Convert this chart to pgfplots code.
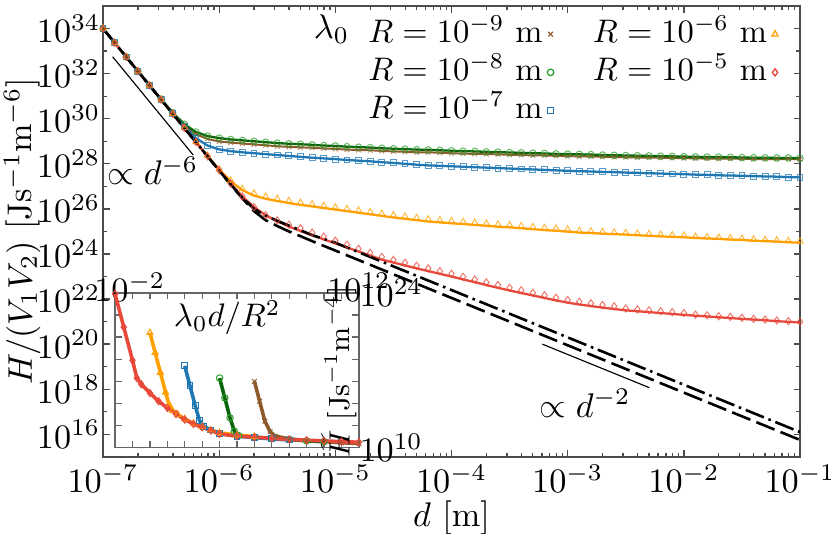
\RequirePackage{fix-cm}
\documentclass[border=0pt]{standalone}
\usepackage{pgfplots}
\pgfplotsset{compat=1.18}
\usepackage{pgfplotstable}
\usepackage{amsmath}

\definecolor{cbrown}{HTML}{8C5A2B}
\definecolor{cbrownm}{HTML}{A0643C}
\definecolor{cgreen}{HTML}{0A640A}
\definecolor{cgreenm}{HTML}{2CA02C}
\definecolor{cblue}{HTML}{1F77B4}
\definecolor{corange}{HTML}{FFA000}
\definecolor{cred}{HTML}{E8483A}

% main curves, log10 values: lx = log10(d), columns = log10(H/(V1V2))
\pgfplotstableread{
lx br gr bl or orm rd rdm
-7.0 34.00 34.00 34.00 34.00 34.00 34.00 34.00
-6.9 33.37 33.37 33.37 33.37 33.37 33.37 33.37
-6.8 32.74 32.74 32.74 32.74 32.74 32.74 32.74
-6.7 32.11 32.11 32.11 32.11 32.11 32.11 32.11
-6.6 31.48 31.48 31.48 31.48 31.48 31.48 31.48
-6.5 30.86 30.87 30.85 30.85 30.85 30.85 30.85
-6.4 30.26 30.27 30.24 30.22 30.22 30.22 30.22
-6.3 29.72 29.76 29.65 29.59 29.59 29.59 29.59
-6.2 29.31 29.41 29.14 28.97 28.97 28.96 28.96
-6.1 29.10 29.23 28.81 28.35 28.35 28.33 28.33
-6.0 28.99 29.14 28.64 27.75 27.75 27.72 27.72
-5.9 28.94 29.08 28.56 27.23 27.26 27.12 27.12
-5.8 28.90 29.04 28.51 26.83 26.89 26.55 26.55
-5.7 28.86 29.00 28.47 26.59 26.69 26.08 26.08
-5.6 28.82 28.96 28.43 26.45 26.55 25.72 25.72
-5.5 28.78 28.92 28.39 26.35 26.45 25.45 25.49
-5.4 28.75 28.89 28.35 26.26 26.36 25.22 25.30
-5.3 28.73 28.87 28.31 26.18 26.28 25.02 25.14
-5.2 28.71 28.84 28.27 26.11 26.21 24.83 24.95
-5.1 28.68 28.81 28.24 26.04 26.14 24.65 24.77
-5.0 28.66 28.79 28.21 25.97 26.07 24.47 24.59
-4.9 28.63 28.76 28.17 25.90 26.00 24.29 24.41
-4.8 28.61 28.74 28.14 25.83 25.93 24.11 24.23
-4.7 28.60 28.72 28.11 25.76 25.86 23.93 24.05
-4.6 28.57 28.69 28.07 25.69 25.79 23.75 23.87
-4.5 28.55 28.67 28.04 25.62 25.72 23.62 23.74
-4.4 28.53 28.65 28.00 25.56 25.66 23.49 23.61
-4.3 28.51 28.63 27.96 25.50 25.60 23.36 23.48
-4.2 28.51 28.62 27.93 25.44 25.54 23.24 23.36
-4.1 28.49 28.60 27.91 25.40 25.50 23.12 23.24
-4.0 28.47 28.58 27.89 25.36 25.46 23.00 23.12
-3.9 28.45 28.56 27.87 25.33 25.43 22.87 22.99
-3.8 28.44 28.55 27.85 25.29 25.39 22.75 22.87
-3.7 28.43 28.53 27.83 25.25 25.35 22.62 22.74
-3.6 28.42 28.52 27.81 25.21 25.31 22.50 22.62
-3.5 28.40 28.50 27.79 25.18 25.28 22.38 22.50
-3.4 28.39 28.49 27.77 25.14 25.24 22.27 22.39
-3.3 28.37 28.47 27.75 25.10 25.20 22.16 22.28
-3.2 28.37 28.46 27.73 25.06 25.16 22.05 22.17
-3.1 28.35 28.44 27.71 25.03 25.13 21.94 22.06
-3.0 28.34 28.43 27.69 24.99 25.09 21.84 21.96
-2.9 28.33 28.42 27.67 24.95 25.03 21.76 21.88
-2.8 28.32 28.41 27.66 24.93 25.01 21.69 21.81
-2.7 28.31 28.39 27.64 24.90 24.98 21.62 21.74
-2.6 28.30 28.38 27.63 24.88 24.96 21.56 21.68
-2.5 28.29 28.37 27.61 24.86 24.94 21.50 21.58
-2.4 28.28 28.36 27.60 24.83 24.91 21.46 21.54
-2.3 28.27 28.35 27.58 24.81 24.89 21.42 21.50
-2.2 28.27 28.34 27.57 24.78 24.86 21.38 21.46
-2.1 28.26 28.33 27.55 24.76 24.84 21.34 21.42
-2.0 28.25 28.32 27.54 24.74 24.82 21.30 21.38
-1.9 28.24 28.31 27.52 24.71 24.77 21.26 21.31
-1.8 28.23 28.30 27.51 24.69 24.75 21.23 21.28
-1.7 28.23 28.30 27.49 24.67 24.73 21.19 21.24
-1.6 28.23 28.29 27.48 24.64 24.70 21.16 21.21
-1.5 28.22 28.28 27.47 24.62 24.68 21.12 21.17
-1.4 28.21 28.27 27.45 24.59 24.65 21.09 21.12
-1.3 28.21 28.27 27.44 24.57 24.63 21.06 21.09
-1.2 28.21 28.26 27.43 24.55 24.61 21.02 21.05
-1.1 28.21 28.26 27.41 24.52 24.58 20.99 21.02
-1.0 28.20 28.25 27.40 24.50 24.56 20.96 20.99
}\maindata

% black limit curves
\pgfplotstableread{
lx ly
-7.0 34.00
-6.5 30.85
-6.0 27.70
-5.9 27.07
-5.8 26.46
-5.7 25.90
-5.6 25.50
-5.5 25.24
-5.4 25.00
-5.3 24.79
-5.2 24.57
-5.0 24.15
-1.0 15.75
}\dashdata
\pgfplotstableread{
lx ly
-7.0 34.00
-6.5 30.85
-6.0 27.70
-5.9 27.08
-5.8 26.50
-5.7 26.00
-5.6 25.70
-5.5 25.47
-5.4 25.26
-5.3 25.05
-5.2 24.84
-5.0 24.50
-1.0 16.10
}\dashdotdata

% inset, log10 values
\pgfplotstableread{
lx ly
-2.0 23.9
-1.5 20.9
-1.0 17.9
-0.75 16.3
-0.5 15.75
0.0 14.95
0.5 14.2
1.0 13.6
1.5 13.05
2.0 12.55
2.5 12.15
3.0 11.85
3.5 11.55
4.0 11.25
5.0 11.05
6.0 10.95
7.0 10.85
8.0 10.75
9.0 10.68
10.0 10.62
11.0 10.55
12.0 10.5
}\insred
\pgfplotstableread{
lx ly
0.0 20.4
0.3 18.6
0.6 16.8
0.9 15.0
1.1 13.9
1.3 13.35
1.6 13.0
2.0 12.6
2.5 12.2
3.0 11.9
3.5 11.6
4.0 11.35
5.0 11.15
6.0 11.0
}\insorange
\pgfplotstableread{
lx ly
2.0 17.4
2.3 15.6
2.6 13.8
2.85 12.45
3.1 11.95
3.5 11.6
4.0 11.3
5.0 11.05
6.0 10.92
7.0 10.8
8.0 10.7
}\insblue
\pgfplotstableread{
lx ly
4.0 16.3
4.3 14.5
4.6 12.7
4.85 11.5
5.1 11.1
6.0 10.95
7.0 10.85
8.0 10.75
9.0 10.62
10.0 10.55
}\insgreen
\pgfplotstableread{
lx ly
6.0 16.0
6.3 14.2
6.6 12.4
6.9 11.45
7.2 11.05
8.0 10.8
9.0 10.65
10.0 10.55
11.0 10.45
12.0 10.38
}\insbrown

\begin{document}
\fontsize{10.5}{12.6}\selectfont
\begin{tikzpicture}
\begin{loglogaxis}[
  name=main, scale only axis, width=213.8pt, height=138.3pt,
  xmin=1e-7, xmax=1e-1, ymin=1e15, ymax=1e35,
  ytick={1e16,1e18,1e20,1e22,1e24,1e26,1e28,1e30,1e32,1e34},
  minor ytick={1e15,1e17,1e19,1e21,1e23,1e25,1e27,1e29,1e31,1e33,1e35},
  major tick length=2pt, minor tick length=1.2pt,
  axis line style={black!70}, every tick/.style={black!70},
  xticklabel style={yshift=1.2pt}, yticklabel style={xshift=2.8pt},
  xlabel={$d$ [m]},
  ylabel={$H/(V_1V_2)$ [Js$^{-1}$m$^{-6}$]},
  xlabel style={at={(axis description cs:0.5,-0.135)}, anchor=center},
  ylabel style={at={(axis description cs:-0.116,0.5)}, anchor=center},
  legend columns=2, legend plot pos=right,
  legend style={draw=none, fill=none, at={(1,1)}, anchor=north east,
    xshift=-6.5pt, yshift=-2.6pt, inner sep=0pt,
    font=\fontsize{10}{12}\selectfont,
    nodes={inner sep=0pt, text height=8.3pt, text depth=3.4pt},
    /tikz/column 1/.style={column sep=1.5pt},
    /tikz/column 2/.style={column sep=12pt},
    /tikz/column 3/.style={column sep=1.5pt}, row sep=0pt},
  legend cell align=left,
]
% markers then lines, per series
\addplot[forget plot, only marks, mark=x, mark size=1pt, draw=cbrownm, opacity=0.75, mark options={line width=0.3pt}]
  table[x expr=10^\thisrow{lx}, y expr=10^\thisrow{br}] {\maindata};
\addplot[forget plot, cbrown, line width=0.6pt]
  table[x expr=10^\thisrow{lx}, y expr=10^\thisrow{br}] {\maindata};
\addplot[forget plot, only marks, mark=o, mark size=1pt, draw=cgreenm, opacity=0.75, mark options={line width=0.3pt}]
  table[x expr=10^\thisrow{lx}, y expr=10^\thisrow{gr}] {\maindata};
\addplot[forget plot, cgreen, line width=0.7pt]
  table[x expr=10^\thisrow{lx}, y expr=10^\thisrow{gr}] {\maindata};
\addplot[forget plot, only marks, mark=square, mark size=0.9pt, draw=cblue, opacity=0.75, mark options={line width=0.3pt}]
  table[x expr=10^\thisrow{lx}, y expr=10^\thisrow{bl}] {\maindata};
\addplot[forget plot, cblue, line width=0.7pt]
  table[x expr=10^\thisrow{lx}, y expr=10^\thisrow{bl}] {\maindata};
\addplot[forget plot, only marks, mark=triangle, mark size=1.1pt, draw=corange, opacity=0.75, mark options={line width=0.3pt}]
  table[x expr=10^\thisrow{lx}, y expr=10^\thisrow{orm}] {\maindata};
\addplot[forget plot, corange, line width=0.7pt]
  table[x expr=10^\thisrow{lx}, y expr=10^\thisrow{or}] {\maindata};
\addplot[forget plot, only marks, mark=diamond, mark size=1.1pt, draw=cred, opacity=0.75, mark options={line width=0.3pt}]
  table[x expr=10^\thisrow{lx}, y expr=10^\thisrow{rdm}] {\maindata};
\addplot[forget plot, cred, line width=0.7pt]
  table[x expr=10^\thisrow{lx}, y expr=10^\thisrow{rd}] {\maindata};
% limits
\addplot[forget plot, black, line width=0.8pt, dash pattern=on 6pt off 2pt]
  table[x expr=10^\thisrow{lx}, y expr=10^\thisrow{ly}] {\dashdata};
\addplot[forget plot, black, line width=0.8pt, dash pattern=on 6pt off 1.5pt on 0.8pt off 1.5pt]
  table[x expr=10^\thisrow{lx}, y expr=10^\thisrow{ly}] {\dashdotdata};
% power-law guides
\addplot[forget plot, black, line width=0.35pt] coordinates {(1.21e-7,5.62e32) (5.98e-7,2.45e28)};
\addplot[forget plot, black, line width=0.35pt] coordinates {(6.05e-4,1.0e20) (5.05e-3,1.17e18)};
\node at (axis cs:2.69e-7,5.0e27) {$\propto d^{-6}$};
\node at (axis cs:1.41e-3,2.4e17) {$\propto d^{-2}$};
\node at (axis cs:9.25e-6,9.5e33) {$\lambda_0$};
% legend, column-wise order
\addlegendimage{only marks, mark=x, mark size=1pt, cbrownm}
\addlegendentry{$R=10^{-9}$~m}
\addlegendimage{only marks, mark=triangle, mark size=1.1pt, corange}
\addlegendentry{$R=10^{-6}$~m}
\addlegendimage{only marks, mark=o, mark size=1pt, cgreenm}
\addlegendentry{$R=10^{-8}$~m}
\addlegendimage{only marks, mark=diamond, mark size=1.1pt, cred}
\addlegendentry{$R=10^{-5}$~m}
\addlegendimage{only marks, mark=square, mark size=0.9pt, cblue}
\addlegendentry{$R=10^{-7}$~m}
\end{loglogaxis}

\begin{loglogaxis}[
  at={(main.south west)}, anchor=south west, xshift=3.7pt, yshift=2.8pt,
  scale only axis, width=74.8pt, height=47.5pt, clip=false,
  xmin=1e-2, xmax=1e12, ymin=1e10, ymax=1e24,
  xminorticks=false, yminorticks=false,
  xtick={1e-2,1e-1,1,1e1,1e2,1e3,1e4,1e5,1e6,1e7,1e8,1e9,1e10,1e11,1e12},
  xticklabels={\hspace*{9pt}$10^{-2}$,{},{},{},{},{},{},{},{},{},{},{},{},{},$10^{12}$},
  xticklabel pos=upper,
  ytick={1e10,1e12,1e14,1e16,1e18,1e20,1e22,1e24},
  yticklabels={$10^{10}$,{},{},{},{},{},{},$10^{24}$},
  yticklabel pos=right,
  xticklabel style={yshift=-6.3pt}, yticklabel style={xshift=-3.5pt},
  major tick length=2pt,
  axis line style={black!60}, every tick/.style={black!60},
  axis background/.style={fill=white},
]
\addplot[cbrown, line width=1.1pt, mark=x, mark size=1pt, mark options={line width=0.3pt}]
  table[x expr=10^\thisrow{lx}, y expr=10^\thisrow{ly}] {\insbrown};
\addplot[cgreen, line width=1.1pt, mark=o, mark size=1pt, mark options={cgreenm, line width=0.3pt}]
  table[x expr=10^\thisrow{lx}, y expr=10^\thisrow{ly}] {\insgreen};
\addplot[cblue, line width=1.1pt, mark=square, mark size=0.9pt, mark options={line width=0.3pt}]
  table[x expr=10^\thisrow{lx}, y expr=10^\thisrow{ly}] {\insblue};
\addplot[corange, line width=1.1pt, mark=triangle, mark size=1.1pt, mark options={line width=0.3pt}]
  table[x expr=10^\thisrow{lx}, y expr=10^\thisrow{ly}] {\insorange};
\addplot[cred, line width=1.1pt, mark=diamond, mark size=1.1pt, mark options={line width=0.3pt}]
  table[x expr=10^\thisrow{lx}, y expr=10^\thisrow{ly}] {\insred};
\node[font=\fontsize{10}{12}\selectfont] at (rel axis cs:0.46,0.84) {$\lambda_0 d/R^2$};
\node[rotate=90, font=\fontsize{9}{11}\selectfont] at (rel axis cs:0.918,0.49) {$\widetilde{H}$ [Js$^{-1}$m$^{-4}$]};
\end{loglogaxis}
\pgfresetboundingbox
\useasboundingbox ([xshift=-31.6pt,yshift=-23.6pt]main.south west) rectangle ([xshift=9.5pt,yshift=1.84pt]main.north east);
\end{tikzpicture}
\end{document}
